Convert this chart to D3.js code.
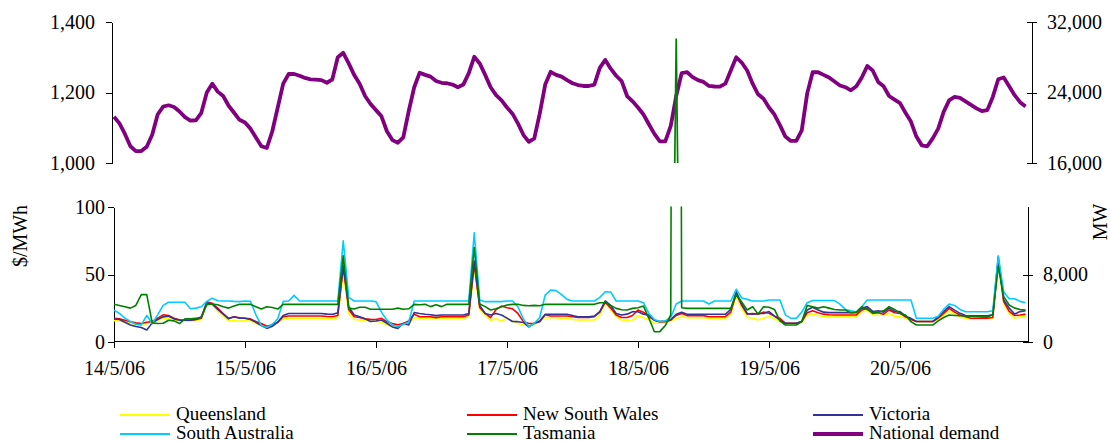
<!DOCTYPE html>
<html>
<head>
<meta charset="utf-8">
<script src="https://cdn.jsdelivr.net/npm/d3@7"></script>
<style>
  body { margin: 0; background: #fff; }
  svg text { font-family: "Liberation Serif", "Times New Roman", serif; fill: #000; }
  .axis path, .axis line { stroke: #000; shape-rendering: crispEdges; }
</style>
</head>
<body>
<div class="canvas"></div>
<script>
// Data: hourly values from 14/5/06 00:00
const startDate = new Date(2006, 4, 14);
const dayLabels = ['14/5/06', '15/5/06', '16/5/06', '17/5/06', '18/5/06', '19/5/06', '20/5/06'];
const seriesNames = ['Queensland', 'New South Wales', 'Victoria', 'South Australia', 'Tasmania', 'National demand'];

// $/MWh
const queensland = [
  15.6,15.5,14.5,13.7,12.5,12.5,13.5,14.5,15.8,17.2,17,15.8,15.8,15.5,15.5,15.6,16.5,28.5,27.5,23,19,15.5,16,15.2,
  16.1,15.5,13.5,12,11,12,14,17,17.4,17.4,17.4,17.4,17.4,17.4,17.4,17.2,17,18,52,21,16.5,16.1,15.8,15.4,
  15,14.5,12.4,11.5,11.2,12.5,13.5,17.9,17.4,17.4,17.4,17.4,17.4,17.4,17.4,17.4,17.4,18.6,55,24,19.5,16,17,15.4,
  17.4,15.5,13.5,12.4,12,13,15.5,18,17.9,17.9,17.4,17.4,16.5,16.1,16.1,16.1,16.1,20,28.5,24,18.6,16.1,16,16.1,
  19.4,18,16.1,13.7,13.7,14,15.5,17,18.6,17.9,17.9,17.9,17.9,17.4,17.4,17.4,17.4,20.5,34,25,18,17.5,16.1,17.4,
  18.7,17,15,13.5,13.5,13.5,14.5,19.5,20.6,19.5,18.7,18.7,18.7,18.7,18.7,18.7,18.7,22.3,23.1,20,19.5,19.9,21,19,
  18.7,17.5,16,15,15,15,15,16.5,19.5,23,20.5,18.5,17.4,17.2,17.2,17.2,17.2,17.5,60,28.5,21,17.4,18.7,19
];
const newSouthWales = [
  17.4,17,16,14.8,14,13.5,14.5,15,17.5,20,19.5,17.5,16.3,16,16.2,16.5,17.5,29.5,28.5,25,21,17.4,18.5,17.8,
  17.4,17,15,13.5,11.5,12.5,14.5,18.6,19.1,19.1,19.1,19.1,19.1,19.1,19.1,18.8,18.6,19.5,56,24,18.6,18,17,16.6,
  16.5,17.4,14.9,13.5,12.5,13.5,15.5,20.4,18.6,18.6,18.6,17.9,18.6,18.6,18.6,18.6,18.6,19.9,58,25.5,21,17.9,24,26.5,
  25.3,24.5,21,14.9,13.5,13.7,15.5,20,19.1,19.1,19.1,19.1,18.6,18,18,18,18.6,22,29.5,25,19.9,18,18,19.5,
  23.6,22,18.6,16,14.9,15,16,19.5,21,19.4,19.4,19.4,19.4,18.6,18.6,18.6,18.6,22,36,27,20.5,21,20.5,22,
  21.2,19,17.4,13.7,13.7,13.7,15,21.5,23,21.6,20.5,20,19.9,19.9,19.9,19.9,19.9,23.6,24.8,21,21.6,20.5,23.6,21.6,
  21.1,18.5,16.5,15,15,15,15,17.5,21,24.8,22,19.9,18.5,17.5,17.5,17.5,17.5,18,61,30,22.5,19.5,19.9,20.5
];
const victoria = [
  16.9,16.5,14.5,12.4,11.3,10.5,8.7,14,16.5,18.5,19,17,16,16,16,16.5,18.6,29,28,24,20.5,17,18.6,17.5,
  17.4,16.5,14.5,12,9.9,11.5,14.5,19.5,21,21,21,21,21,21,21,20.5,20.3,21.5,57,26,19.9,18.6,17,15,
  15.4,16.1,13.7,11,9.9,13.7,12.4,21.7,21,20.4,20,19.4,19.9,19.9,19.9,19.9,19.9,21,60,27,21,19.9,21,19.9,
  17.5,15,14.9,14.3,11,13.7,14.9,20.4,20.4,20.4,20.4,20.4,19.5,18.6,18.6,18.6,19,22.3,30.3,27,21,19.9,20.5,22.3,
  22.3,20.5,19.9,16,14.9,15,16.5,20.4,22,20.4,20.4,20.4,20.4,20.4,20.4,20.4,20.4,24,37.2,28,21,20.5,21,21,
  22.4,19,16,13.7,13.7,13.7,15,23.6,25.6,23.6,22,21.6,21.6,21.6,21.6,21.6,21.6,24.8,26.1,22.5,23,22,25,22.5,
  22.4,19,17.4,15,15,15,15,18.5,22.4,26.1,23.5,21.1,19.5,19.2,19.2,19.2,19.2,20,63,31,25,20.6,22.4,23
];
const southAustralia = [
  23.5,21,17.5,15,13,12.5,19.5,13.5,20,27,29.3,29.3,29.3,29.3,24.5,25,26,30,32.3,30.5,30.3,30.3,30,29.8,
  30.3,30,20,12,10.5,13,17,30,30.3,34.5,30.3,30.3,30.3,30.3,30.3,30.3,30.3,30.3,75,33,30.3,30.3,30.3,30.3,
  29.8,22,16,12.5,11.2,13,14.5,30.3,30.3,30.3,30.3,30.3,30.3,30.3,30.3,30.3,30.3,30.3,81,31,29.8,29.8,29.8,29.8,
  30.3,30.3,26,17,11.2,13.7,18,34.7,38.4,38,35,31.5,30.3,30.3,30.3,30.3,30.3,33,37.2,37,30.3,30.3,30.3,30.3,
  30.3,29,21,16.5,15,15.5,18,28,30.3,30.3,30.3,30.3,30.3,28,30.3,30.3,30.3,30.3,39,32.5,31.5,30.3,30.3,30.3,
  31,31,31,20,17.4,17.4,22,29,30.6,30.6,30.6,30.6,30.6,28,24,23,22,26,31,31,31,31,31,31,
  31,31,31,17.4,17.4,17.4,17.4,19,24,28,27,24,22.3,22.3,22.3,22.3,22.3,23,64,37,32,32,30,29
];
const tasmania = [
  27.8,27,26,25,27,35,35,14,13.5,13.7,16,15.5,13.5,17,17,17.5,18,27.5,28,27.5,26,25,26.5,27.8,
  27.8,27.8,26,24.3,26,25.5,24.3,27.8,27.8,27.8,27.8,27.8,27.8,27.8,27.8,27.8,27.8,27.8,64,25,24.3,25.6,25.6,24.1,
  24.1,24.1,24.1,24.1,25,24.1,24.5,27.8,27.5,27.8,26.1,27.5,26.1,27.8,27.8,27.8,27.8,27.8,70,28,26.1,23.6,24.5,26,
  27.3,27.8,27.8,27,26.8,27,26.8,27.8,27.8,27.8,27.8,27.8,27.8,27.8,27.8,27.8,27.8,29,29,27,24.8,23.8,23.6,24.8,
  25.3,26.5,17.4,7.4,7.5,12,19.9,1353,25.3,24.8,24.8,24.8,24.8,24.8,24.8,24.8,24.8,24.8,35,29.5,23.6,26,20.5,26,
  25.6,24,15.5,12.4,12.4,12.4,15,27,26,25,26,25,24,23.6,23.6,21.5,22,26,24,21.5,22,23,26,24,
  21.1,19.9,14.9,12.4,12.4,12.4,12.4,15.5,18,19.9,19.5,19.4,19.2,19,18.7,18.5,18.3,20,56,33.5,27.3,25,24,23.6
];
// MW
const nationalDemand = [
  21250,20500,19300,17900,17350,17350,17850,19200,21500,22400,22550,22350,21850,21200,20800,20850,21700,24000,25000,24100,23600,22500,21700,20900,
  20600,19900,18900,17900,17700,19600,22300,25000,26100,26100,25900,25650,25500,25450,25400,25100,25500,28000,28500,27300,26000,25000,23600,22700,
  22000,21300,19600,18600,18300,18900,21900,24600,26250,26000,25800,25300,25100,25050,24900,24600,24900,26200,28050,27300,26000,24600,23700,23100,
  22300,21600,20500,19200,18400,18800,21600,24900,26350,26000,25800,25400,25050,24850,24740,24740,24900,26800,27700,26700,25900,25300,23600,23000,
  22300,21500,20400,19300,18450,18450,20200,23600,26200,26300,25750,25400,25200,24740,24680,24660,25000,26500,28000,27400,26500,25000,23800,23300,
  22300,21500,20300,19000,18500,18500,19700,23900,26300,26300,26000,25700,25250,24800,24600,24250,24700,25700,27000,26500,25200,24700,23600,23200,
  22800,21700,20700,19000,18000,17900,18800,19900,21800,23100,23500,23400,23000,22600,22200,21900,22000,23500,25500,25700,24700,23700,22900,22400
];
const topPriceTicks = [1000, 1200, 1400];
const topDemandTicks = [16000, 24000, 32000];
const bottomPriceTicks = [0, 50, 100];
const bottomDemandTicks = [0, 8000];

// Layout
const width = 1110, height = 443;
const svg = d3.select('.canvas')
    .append('svg')
    .attr('width', width)
    .attr('height', height);

const timeAt = i => d3.timeHour.offset(startDate, i);
const x = d3.scaleTime()
    .domain([startDate, d3.timeDay.offset(startDate, 7)])
    .range([114, 1031]);

const yTopPrice = d3.scaleLinear().domain([1000, 1400]).range([163, 22]);
const yTopDemand = d3.scaleLinear().domain([16000, 32000]).range([163, 22]);
const yBotPrice = d3.scaleLinear().domain([0, 100]).range([341.7, 207.3]);
const yBotDemand = d3.scaleLinear().domain([0, 16000]).range([341.7, 207.3]);

const fmt = d3.format(',');

// clip regions for the two panels
const defs = svg.append('defs');
defs.append('clipPath').attr('id', 'clipTop').append('rect')
    .attr('x', 110).attr('y', 21).attr('width', 925).attr('height', 142);
defs.append('clipPath').attr('id', 'clipBot').append('rect')
    .attr('x', 110).attr('y', 206.5).attr('width', 925).attr('height', 136);

// Axes - top panel
svg.append('g').attr('class', 'axis')
    .attr('transform', 'translate(112,0)')
    .call(d3.axisLeft(yTopPrice).tickValues(topPriceTicks).tickFormat(fmt)
        .tickSize(6).tickSizeOuter(0).tickPadding(11))
    .call(g => g.selectAll('text').style('font-size', '20px'));

svg.append('g').attr('class', 'axis')
    .attr('transform', 'translate(1032,0)')
    .call(d3.axisRight(yTopDemand).tickValues(topDemandTicks).tickFormat(fmt)
        .tickSize(5).tickSizeOuter(0).tickPadding(10))
    .call(g => g.selectAll('.tick line').attr('x1', -5))
    .call(g => g.selectAll('text').style('font-size', '20px'));

// Axes - bottom panel
svg.append('g').attr('class', 'axis')
    .attr('transform', 'translate(114,0)')
    .call(d3.axisLeft(yBotPrice).tickValues(bottomPriceTicks)
        .tickSize(6).tickSizeOuter(0).tickPadding(3))
    .call(g => g.selectAll('text').style('font-size', '20px'));

svg.append('g').attr('class', 'axis')
    .attr('transform', 'translate(1028,0)')
    .call(d3.axisRight(yBotDemand).tickValues(bottomDemandTicks).tickFormat(fmt)
        .tickSize(5).tickSizeOuter(0).tickPadding(10))
    .call(g => g.selectAll('.tick line').attr('x1', -5))
    .call(g => g.select('.domain').attr('d', 'M0,207.3V341.7'))
    .call(g => g.selectAll('text').style('font-size', '20px'));

svg.append('g').attr('class', 'axis')
    .attr('transform', 'translate(0,341.7)')
    .call(d3.axisBottom(x)
        .tickValues(dayLabels.map((d, i) => d3.timeDay.offset(startDate, i)))
        .tickFormat((d, i) => dayLabels[i])
        .tickSize(6).tickSizeOuter(0).tickPadding(13))
    .call(g => g.select('.domain').attr('d', 'M114,0H1028'))
    .call(g => g.selectAll('text').style('font-size', '20px'));

// axis titles
svg.append('text')
    .attr('transform', 'translate(27,236)rotate(-90)')
    .attr('text-anchor', 'middle')
    .style('font-size', '20px')
    .text('$/MWh');
svg.append('text')
    .attr('transform', 'translate(1107,222)rotate(-90)')
    .attr('text-anchor', 'middle')
    .style('font-size', '20px')
    .text('MW');

// Lines
const line = yScale => d3.line()
    .x((d, i) => x(timeAt(i)))
    .y(d => yScale(d));

const regions = [
  { values: queensland, color: '#FFFF00' },
  { values: newSouthWales, color: '#FF0000' },
  { values: victoria, color: '#333399' },
  { values: southAustralia, color: '#00CCFF' },
  { values: tasmania, color: '#008000' }
];

const bottomPanel = svg.append('g').attr('clip-path', 'url(#clipBot)');
bottomPanel.selectAll('path.region')
    .data(regions)
    .enter()
    .append('path')
    .attr('class', 'region')
    .attr('fill', 'none')
    .attr('stroke', d => d.color)
    .attr('stroke-width', 1.6)
    .attr('stroke-linejoin', 'round')
    .attr('d', d => line(yBotPrice)(d.values));

const topPanel = svg.append('g').attr('clip-path', 'url(#clipTop)');
topPanel.append('path')
    .attr('fill', 'none')
    .attr('stroke', '#800080')
    .attr('stroke-width', 3.8)
    .attr('stroke-linejoin', 'round')
    .attr('d', line(yTopDemand)(nationalDemand));
topPanel.append('path')
    .attr('fill', 'none')
    .attr('stroke', '#008000')
    .attr('stroke-width', 1.7)
    .attr('d', line(yTopPrice)(tasmania));

// Legend
const legendColors = ['#FFFF00', '#FF0000', '#333399', '#00CCFF', '#008000', '#800080'];
const legendX = [120, 467, 813];
const legendY = [415, 434];
const legend = svg.append('g');
seriesNames.forEach((name, i) => {
    const lx = legendX[i % 3], ly = legendY[Math.floor(i / 3)];
    legend.append('line')
        .attr('x1', lx).attr('x2', lx + 50)
        .attr('y1', ly).attr('y2', ly)
        .attr('stroke', legendColors[i])
        .attr('stroke-width', i === 5 ? 4 : 2);
    legend.append('text')
        .attr('x', lx + 56).attr('y', ly + 5)
        .style('font-size', '19px')
        .text(name);
});
</script>
</body>
</html>
